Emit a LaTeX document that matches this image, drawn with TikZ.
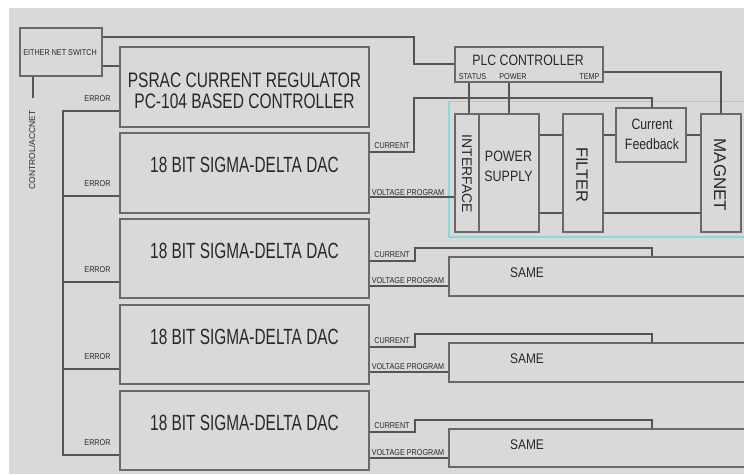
\documentclass[tikz,border=0pt]{standalone}
\usepackage{graphicx}
\usepackage{fontspec}
\setmainfont{Liberation Sans}
\definecolor{bg}{RGB}{217,217,217}
\definecolor{ln}{RGB}{85,85,85}
\definecolor{bx}{RGB}{105,105,105}
\definecolor{tx}{RGB}{40,40,40}
\definecolor{cy}{RGB}{135,218,214}
\newcommand{\cnd}[2]{\scalebox{#1}[1]{#2}}
\tikzset{
  blk/.style={draw=bx, line width=1.3pt, inner sep=0pt, fill=none},
  wire/.style={draw=ln, line width=1.1pt},
  big/.style={text=tx, inner sep=0pt, font=\fontsize{21}{21}\selectfont},
  mid/.style={text=tx, inner sep=0pt, font=\fontsize{15}{20}\selectfont, align=center},
  sml/.style={text=tx, inner sep=0pt, font=\fontsize{8.5}{8.5}\selectfont},
}
\begin{document}
\begin{tikzpicture}[x=1pt,y=-1pt]
\useasboundingbox (0,0) rectangle (744,474);
\fill[white] (0,0) rectangle (744,474);
\fill[bg] (9,8) rectangle (744,474);
% cyan frame
\draw[cy, line width=1.3pt] (449,101.5) rectangle (760,237);
% boxes
\node[blk, minimum width=82, minimum height=48] (sw) at (61,52) {};
\node[blk, minimum width=249, minimum height=80] (psrac) at (244.5,87) {};
\node[blk, minimum width=249, minimum height=80] (dac1) at (244.5,173) {};
\node[blk, minimum width=249, minimum height=79] (dac2) at (244.5,258.5) {};
\node[blk, minimum width=249, minimum height=79] (dac3) at (244.5,344.5) {};
\node[blk, minimum width=249, minimum height=79] (dac4) at (244.5,430.5) {};
\node[blk, minimum width=148, minimum height=35] (plc) at (529,64.5) {};
\node[blk, minimum width=24, minimum height=118] (iface) at (467,173) {};
\node[blk, minimum width=60, minimum height=118] (ps) at (509,173) {};
\node[blk, minimum width=40, minimum height=118] (filter) at (583,173) {};
\node[blk, minimum width=70, minimum height=54] (cf) at (651,135) {};
\node[blk, minimum width=40, minimum height=118] (magnet) at (721,173) {};
\node[blk, minimum width=310, minimum height=39] (same1) at (604,276.5) {};
\node[blk, minimum width=310, minimum height=39] (same2) at (604,362.5) {};
\node[blk, minimum width=310, minimum height=38] (same3) at (604,448) {};
% texts
\node[sml] (swt) at (60,53) {\cnd{0.85}{EITHER NET SWITCH}};
\node[big, align=center, font=\fontsize{21}{21}\selectfont] (psract) at (244.5,90.5) {\cnd{0.74}{PSRAC CURRENT REGULATOR}\\[0pt]\cnd{0.74}{PC-104 BASED CONTROLLER}};
\node[big, font=\fontsize{22}{22}\selectfont] (dac1t) at (244.5,165) {\cnd{0.70}{18 BIT SIGMA-DELTA DAC}};
\node[big, font=\fontsize{22}{22}\selectfont] (dac2t) at (244.5,251) {\cnd{0.70}{18 BIT SIGMA-DELTA DAC}};
\node[big, font=\fontsize{22}{22}\selectfont] (dac3t) at (244.5,337) {\cnd{0.70}{18 BIT SIGMA-DELTA DAC}};
\node[big, font=\fontsize{22}{22}\selectfont] (dac4t) at (244.5,423) {\cnd{0.70}{18 BIT SIGMA-DELTA DAC}};
\node[big, font=\fontsize{15}{15}\selectfont] (plct) at (528,60) {\cnd{0.82}{PLC CONTROLLER}};
\node[sml] (stat) at (472.5,77) {\cnd{0.85}{STATUS}};
\node[sml] (powt) at (513,77) {\cnd{0.85}{POWER}};
\node[sml] (tmpt) at (589.5,77) {\cnd{0.85}{TEMP}};
\node[big, font=\fontsize{14}{14}\selectfont, rotate=-90] (ifacet) at (467,174) {INTERFACE};
\node[mid] (pst) at (508.5,166) {\cnd{0.83}{POWER}\\\cnd{0.83}{SUPPLY}};
\node[big, font=\fontsize{16.5}{16.5}\selectfont, rotate=-90] (filtert) at (582,175) {FILTER};
\node[mid] (cft) at (652,134) {\cnd{0.82}{Current}\\\cnd{0.82}{Feedback}};
\node[big, font=\fontsize{17}{17}\selectfont, rotate=-90] (magnett) at (720,175) {MAGNET};
\node[big, font=\fontsize{14}{14}\selectfont] (same1t) at (527,273) {\cnd{0.85}{SAME}};
\node[big, font=\fontsize{14}{14}\selectfont] (same2t) at (527,359) {\cnd{0.85}{SAME}};
\node[big, font=\fontsize{14}{14}\selectfont] (same3t) at (527,445) {\cnd{0.85}{SAME}};
\node[sml, rotate=90, font=\fontsize{8.5}{8.5}\selectfont] (ctlt) at (32,150) {CONTROL/ACCNET};
\node[sml] (e0) at (97.5,99) {\cnd{0.85}{ERROR}};
\node[sml] (e1) at (97.5,184) {\cnd{0.85}{ERROR}};
\node[sml] (e2) at (97.5,270) {\cnd{0.85}{ERROR}};
\node[sml] (e3) at (97.5,357) {\cnd{0.85}{ERROR}};
\node[sml] (e4) at (97.5,443) {\cnd{0.85}{ERROR}};
\node[sml] (c1) at (392,146) {\cnd{0.85}{CURRENT}};
\node[sml] (c2) at (392,255) {\cnd{0.85}{CURRENT}};
\node[sml] (c3) at (392,341) {\cnd{0.85}{CURRENT}};
\node[sml] (c4) at (392,426) {\cnd{0.85}{CURRENT}};
\node[sml] (v1) at (408,192.5) {\cnd{0.85}{VOLTAGE PROGRAM}};
\node[sml] (v2) at (408,281) {\cnd{0.85}{VOLTAGE PROGRAM}};
\node[sml] (v3) at (408,367) {\cnd{0.85}{VOLTAGE PROGRAM}};
\node[sml] (v4) at (408,453) {\cnd{0.85}{VOLTAGE PROGRAM}};
% connectors
\coordinate (ctl) at (33,98);
\draw[wire] (sw.east |- 0,37) -- (414,37) -- (414,64) -- (plc.west |- 0,64);
\draw[wire] (sw.east |- 0,66) -- (psrac.west |- 0,66);
\draw[wire] (sw.south -| ctl) -- (ctl);
\draw[wire] (psrac.west |- 0,111) -- (63,111) -- (63,455) -- (dac4.west |- 0,455);
\draw[wire] (63,196) -- (dac1.west |- 0,196);
\draw[wire] (63,282) -- (dac2.west |- 0,282);
\draw[wire] (63,369) -- (dac3.west |- 0,369);
\draw[wire] (plc.south -| 469,0) -- (iface.north -| 469,0);
\draw[wire] (plc.south -| 509,0) -- (ps.north -| 509,0);
\draw[wire] (plc.east |- 0,72) -| (magnet.north);
\draw[wire] (dac1.east |- 0,152) -- (414,152) -- (414,98) -- (652,98) -- (cf.north -| 652,0);
\draw[wire] (dac1.east |- 0,197) -- (iface.west |- 0,197);
\draw[wire] (ps.east |- 0,135) -- (filter.west |- 0,135);
\draw[wire] (ps.east |- 0,213) -- (filter.west |- 0,213);
\draw[wire] (filter.east |- 0,135) -- (cf.west |- 0,135);
\draw[wire] (cf.east |- 0,135) -- (magnet.west |- 0,135);
\draw[wire] (filter.east |- 0,213) -- (magnet.west |- 0,213);
\draw[wire] (dac2.east |- 0,261) -- (415,261) -- (415,248) -- (652,248) -- (same1.north -| 652,0);
\draw[wire] (dac2.east |- 0,286) -- (same1.west |- 0,286);
\draw[wire] (dac3.east |- 0,347) -- (415,347) -- (415,334) -- (652,334) -- (same2.north -| 652,0);
\draw[wire] (dac3.east |- 0,372) -- (same2.west |- 0,372);
\draw[wire] (dac4.east |- 0,432) -- (415,432) -- (415,420) -- (652,420) -- (same3.north -| 652,0);
\draw[wire] (dac4.east |- 0,458) -- (same3.west |- 0,458);
\end{tikzpicture}
\end{document}
